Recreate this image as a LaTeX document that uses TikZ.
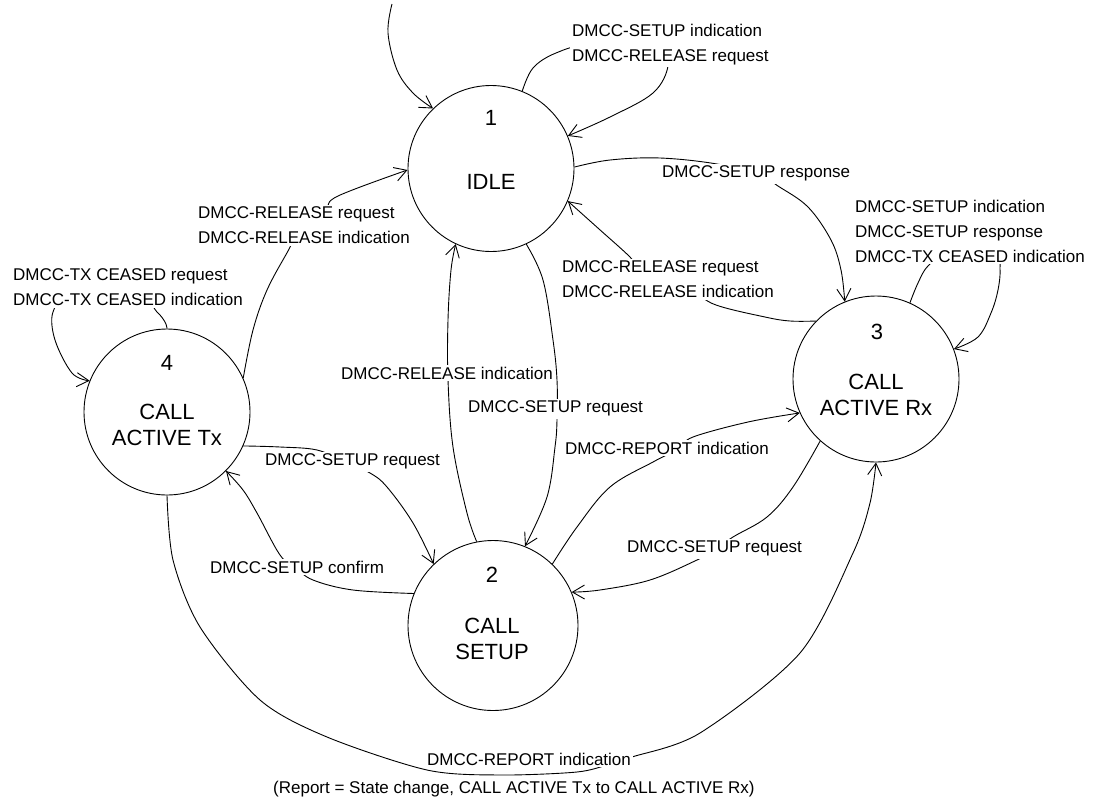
\documentclass[tikz,border=0pt]{standalone}
\usepackage{fontspec}
\setmainfont{Liberation Sans}
\usetikzlibrary{arrows.meta}
\begin{document}
\begin{tikzpicture}[x=1pt,y=-1pt,
  state/.style={draw, circle, minimum size=166pt, inner sep=0pt, line width=0.9pt},
  sttext/.style={font=\fontsize{22}{26}\selectfont, align=center, inner sep=0pt},
  msg/.style={font=\fontsize{17}{25}\selectfont, align=left, inner sep=2pt, anchor=west, fill=white},
  tr/.style={line width=0.9pt, -{Straight Barb[length=12pt,width=14pt]}},
]
\useasboundingbox (0,0) rectangle (1098,801);

% states
\node[state] (s1) at (491,168.5) {};
\node[state] (s3) at (876,379) {};
\node[state] (s4) at (167,412) {};
\node[state, minimum size=170pt] (s2) at (493,625.5) {};

\node[sttext] (n1) at (491,118) {1};
\node[sttext] (t1) at (491,182) {IDLE};
\node[sttext] (n3) at (877,332) {3};
\node[sttext] (t3) at (876,395) {CALL\\ACTIVE Rx};
\node[sttext] (n4) at (167,363) {4};
\node[sttext] (t4) at (167,425) {CALL\\ACTIVE Tx};
\node[sttext] (n2) at (492,575) {2};
\node[sttext] (t2) at (492,638.5) {CALL\\SETUP};

% initial transition into IDLE
\coordinate (init) at (392,4);
\draw[tr] plot[smooth, tension=0.6] coordinates {(init) (388,33) (397,70) (413,93) (s1.134)};

% IDLE self loop
\draw[tr] plot[smooth, tension=0.6] coordinates {(s1.68) (533,68) (556,53) (590,45) (660,50) (668,66) (653,93) (610,117) (s1.23)};

% IDLE -> CALL ACTIVE Rx
\draw[tr] plot[smooth, tension=0.6] coordinates {(s1.1) (610,160) (660,158) (717,164) (760,175) (778,186) (808,207) (831,240) (841,270) (s3.112)};

% CALL ACTIVE Rx self loop
\draw[tr] plot[smooth, tension=0.6] coordinates {(s3.66) (918,283) (928,266) (950,250) (995,250) (1000,268) (998,290) (991,313) (978,337) (s3.21)};

% CALL ACTIVE Rx -> IDLE
\draw[tr] plot[smooth, tension=0.6] coordinates {(s3.136) (790,321) (765,317) (716,305) (690,290) (640,270) (630,257) (599,229) (s1.-23)};

% CALL ACTIVE Tx -> IDLE
\draw[tr] plot[smooth, tension=0.6] coordinates {(s4.24) (253,330) (267,290) (288,251) (300,230) (325,210) (338,196) (s1.181)};

% CALL ACTIVE Tx self loop
\draw[tr] plot[smooth, tension=0.6] coordinates {(s4.90) (165,322) (157,312) (140,300) (70,300) (53,312) (55,340) (72,373) (s4.158)};

% CALL SETUP -> IDLE
\draw[tr] plot[smooth, tension=0.6] coordinates {(s2.101) (467,513) (453,447) (448,380) (448,320) (451,270) (s1.245)};

% IDLE -> CALL SETUP
\draw[tr] plot[smooth, tension=0.6] coordinates {(s1.295) (543,280) (553,340) (557,380) (557,420) (555,447) (547,497) (s2.68)};

% CALL SETUP -> CALL ACTIVE Rx
\draw[tr] plot[smooth, tension=0.6] coordinates {(s2.46) (577,527) (610,487) (653,462) (680,448) (693,437) (748,422) (s3.204)};

% CALL ACTIVE Rx -> CALL SETUP
\draw[tr] plot[smooth, tension=0.6] coordinates {(s3.228) (793,487) (767,517) (733,537) (715,550) (697,560) (650,580) (600,590) (s2.23)};

% CALL ACTIVE Tx -> CALL SETUP
\draw[tr] plot[smooth, tension=0.6] coordinates {(s4.-24) (280,447) (317,450) (345,462) (370,473) (387,487) (413,523) (s2.134)};

% CALL SETUP -> CALL ACTIVE Tx
\draw[tr] plot[smooth, tension=0.6] coordinates {(s2.158) (353,590) (313,580) (295,567) (280,555) (257,513) (243,490) (s4.315)};

% CALL ACTIVE Tx -> CALL ACTIVE Rx (state change report)
\draw[tr] plot[smooth, tension=0.5] coordinates {(s4.270) (173,560) (200,627) (260,700) (327,737) (427,770) (500,775) (577,772) (610,764) (632,757) (700,733) (800,653) (853,553) (870,503) (s3.270)};

% transition labels
\node[msg] (L1) at (570,44.3) {DMCC-SETUP indication\\DMCC-RELEASE request};
\node[msg] (L2) at (660,173.8) {DMCC-SETUP response};
\node[msg] (L3) at (853,231) {DMCC-SETUP indication\\DMCC-SETUP response\\DMCC-TX CEASED indication};
\node[msg] (L4) at (560,279.5) {DMCC-RELEASE request\\DMCC-RELEASE indication};
\node[msg] (L5) at (196,225.5) {DMCC-RELEASE request\\DMCC-RELEASE indication};
\node[msg] (L6) at (11,287) {DMCC-TX CEASED request\\DMCC-TX CEASED indication};
\node[msg, anchor=east] (L7) at (555,373) {DMCC-RELEASE indication};
\node[msg] (L8) at (466,408.8) {DMCC-SETUP request};
\node[msg] (L9) at (563,448) {DMCC-REPORT indication};
\node[msg] (L10) at (625,548.8) {DMCC-SETUP request};
\node[msg] (L11) at (263,461.8) {DMCC-SETUP request};
\node[msg] (L12) at (208,567) {DMCC-SETUP confirm};
\node[msg] (L13) at (425,759) {DMCC-REPORT indication};
\node[msg] (L14) at (271,789) {(Report = State change, CALL ACTIVE Tx to CALL ACTIVE Rx)};
\end{tikzpicture}
\end{document}
